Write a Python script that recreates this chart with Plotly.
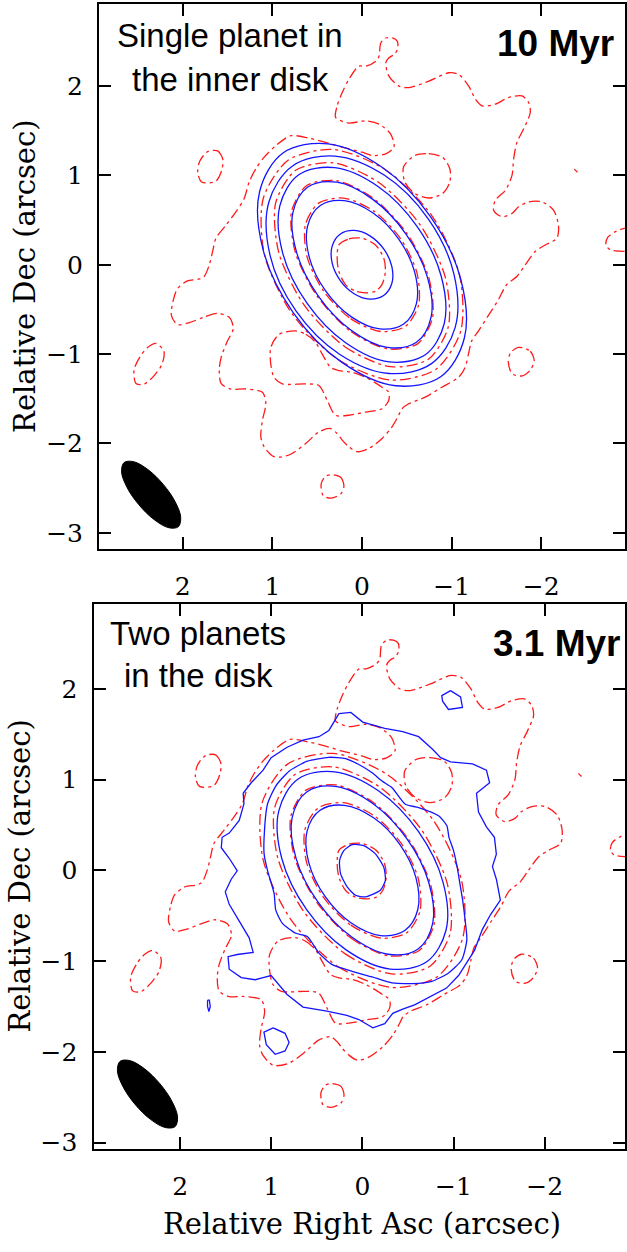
import plotly.graph_objects as go

# ---------------- data (arcsec; RA offset, Dec offset) ----------------
ra_ticks = [2, 1, 0, -1, -2]
dec_ticks = [-3, -2, -1, 0, 1, 2]

# model (blue, solid) contours, single planet panel
b1_ra = [.246, .093, -.086, -.241, -.332, -.334, -.246, -.093, .086, .241, .332, .334, .246]
b1_dec = [-.172, -.321, -.384, -.344, -.212, -.023, .172, .321, .384, .344, .212, .023, -.172]
b2_ra = [.41, .123, -.198, -.465, -.608, -.588, -.41, -.123, .198, .465, .608, .588, .41]
b2_dec = [-.287, -.58, -.718, -.663, -.431, -.083, .287, .58, .718, .663, .431, .083, -.287]
b3_ra = [.491, .121, -.281, -.608, -.772, -.729, -.491, -.121, .281, .608, .772, .729, .491]
b3_dec = [-.344, -.732, -.924, -.868, -.58, -.136, .344, .732, .924, .868, .58, .136, -.344]
b4_ra = [.614, .179, -.304, -.706, -.918, -.885, -.614, -.179, .304, .706, .918, .885, .614]
b4_dec = [-.43, -.876, -1.087, -1.007, -.657, -.131, .43, .876, 1.087, 1.007, .657, .131, -.43]
b5_ra = [.737, .251, -.303, -.775, -1.04, -1.026, -.737, -.251, .303, .775, 1.04, 1.026, .737]
b5_dec = [-.517, -1.001, -1.217, -1.106, -.70, -.105, .517, 1.001, 1.217, 1.106, .70, .105, -.517]
b6_ra = [.766, .224, -.377, -.878, -1.143, -1.102, -.766, -.224, .377, .878, 1.143, 1.102, .766]
b6_dec = [-.537, -1.092, -1.354, -1.253, -.817, -.162, .537, 1.092, 1.354, 1.253, .817, .162, -.537]

# model (blue) contours, two planet panel
c1_ra = [.112, -.015, -.143, -.234, -.252, -.197, -.034, .076, .167, .24, .251, .204, .112]
c1_dec = [.284, .274, .182, .036, -.109, -.219, -.292, -.274, -.182, -.036, .109, .219, .284]
c5_ra = [1.079, 1.042, .951, .805, .605, .368, .185, .039, -.106, -.215, -.325, -.471, -.617,
         -.836, -.927, -.95, -1.0, -1.04, -1.07, -1.1, -1.127, -1.146, -1.091, -.945, -.763,
         -.544, -.325, -.106, .112, .331, .477, .605, .732, .878, .951, .969, 1.042, 1.079, 1.079]
c5_dec = [.365, .729, .930, 1.094, 1.204, 1.247, 1.233, 1.167, 1.076, .985, .912, .729, .693,
          .602, .492, .365, .219, .036, -.146, -.328, -.547, -.766, -.985, -1.13, -1.222,
          -1.247, -1.24, -1.174, -1.112, -1.039, -.912, -.729, -.693, -.584, -.438, -.255, 0, .182, .365]
c6_ra = [.258, .127, -.004, -.245, -.442, -.617, -.77, -.858, -.967, -1.208,
         -1.361, -1.396, -1.252, -1.274, -1.361, -1.449, -1.47, -1.427, -1.47, -1.514,
         -1.405, -1.317, -1.23, -1.142, -1.055, -.923, -.748, -.573, -.442, -.333,
         -.245, -.114, .039, .171, .39, .652, .827, 1.002, 1.09, 1.177,
         1.33, 1.462, 1.475, 1.374, 1.199, 1.243, 1.352, 1.462, 1.505, 1.44,
         1.374, 1.462, 1.549, 1.54, 1.462, 1.352, 1.3, 1.309, 1.221, 1.09,
         1.002, .827, .652, .477, .368, .302, .258]
c6_dec = [1.728, 1.741, 1.635, 1.566, 1.529, 1.474, 1.335, 1.243, 1.197, 1.174,
          1.105, .966, .85, .642, .481, .365, .18, .042, -.097, -.328,
          -.489, -.65, -.881, -1.02, -1.159, -1.297, -1.39, -1.482, -1.529, -1.575,
          -1.69, -1.736, -1.644, -1.598, -1.552, -1.506, -1.367, -1.159, -1.182, -1.205,
          -1.182, -1.089, -.951, -.927, -.904, -.743, -.559, -.374, -.236, -.097,
          -.004, .134, .25, .365, .412, .55, .735, .85, .966, 1.105,
          1.243, 1.358, 1.436, 1.474, 1.543, 1.658, 1.728]
ci1_ra = [-.967, -1.077, -1.098, -.945, -.88, -.871, -.967]
ci1_dec = [1.982, 1.913, 1.797, 1.774, 1.866, 1.926, 1.982]
ci2_ra = [.98, .849, .805, .849, .958, 1.055, 1.081, .98]
ci2_dec = [-1.736, -1.796, -1.898, -1.99, -2.027, -1.921, -1.783, -1.736]
ci3_ra = [1.70, 1.68, 1.67, 1.685, 1.70, 1.70]
ci3_dec = [-1.43, -1.43, -1.50, -1.555, -1.50, -1.43]

# observed (red, dash-dot) contours, identical in both panels
r1_ra = [.258, .147, 0, -.15, -.243, -.261, -.223, -.15, -.039, .072, .184, .258, .277, .258]
r1_dec = [.222, .289, .297, .222, .074, -.074, -.222, -.296, -.314, -.296, -.222, -.074, .074, .222]
r2_ra = [.426, .128, -.206, -.484, -.632, -.612, -.426, -.128, .206, .484, .632, .612, .426]
r2_dec = [-.298, -.603, -.747, -.690, -.448, -.086, .298, .603, .747, .690, .448, .086, -.298]
r3_ra = [.501, .123, -.287, -.620, -.787, -.744, -.501, -.123, .287, .620, .787, .744, .501]
r3_dec = [-.351, -.747, -.942, -.885, -.592, -.139, .351, .747, .942, .885, .592, .139, -.351]
r4_ra = [.645, .188, -.319, -.741, -.964, -.929, -.645, -.188, .319, .741, .964, .929, .645]
r4_dec = [-.452, -.920, -1.141, -1.057, -.690, -.138, .452, .920, 1.141, 1.057, .690, .138, -.452]
r5_ra = [.781, .266, -.321, -.822, -1.102, -1.088, -.781, -.266, .321, .822, 1.102, 1.088, .781]
r5_dec = [-.548, -1.061, -1.290, -1.172, -.742, -.111, .548, 1.061, 1.290, 1.172, .742, .111, -.548]
rout_ra = [-0.265, -0.339, -0.395, -0.395, -0.357, -0.301, -0.265, -0.301, -0.413, -0.524,
           -0.746, -0.969, -1.08, -1.191, -1.266, -1.34, -1.488, -1.636, -1.785, -1.859,
           -1.878, -1.803, -1.73, -1.692, -1.674, -1.6, -1.488, -1.469, -1.563, -1.674,
           -1.747, -1.859, -2.008, -2.137, -2.192, -2.175, -2.044, -1.933, -1.822, -1.73,
           -1.611, -1.522, -1.411, -1.3, -1.225, -1.188, -1.151, -1.077, -0.891, -0.706,
           -0.521, -0.446, -0.409, -0.335, -0.224, -0.076, 0.055, 0.147, 0.221, 0.277,
           0.35, 0.481, 0.628, 0.814, 0.981, 1.092, 1.129, 1.111, 1.073, 1.111,
           1.315, 1.459, 1.571, 1.593, 1.571, 1.504, 1.437, 1.482, 1.615, 1.771,
           1.927, 2.06, 2.127, 2.105, 2.06, 1.949, 1.815, 1.76, 1.704, 1.667,
           1.63, 1.518, 1.407, 1.315, 1.259, 1.185, 1.092, 0.962, 0.795, 0.592,
           0.406, 0.221, -0.001, -0.117, -0.265, -0.357, -0.32, -0.19, -0.042, 0.147,
           0.295, 0.277, 0.221, 0.147, 0.036, -0.042, -0.154, -0.19, -0.209, -0.265]
rout_dec = [2.538, 2.538, 2.5, 2.408, 2.352, 2.316, 2.26, 2.111, 2.0, 1.982,
            2.056, 2.149, 2.13, 2.0, 1.852, 1.778, 1.797, 1.871, 1.889, 1.816,
            1.704, 1.519, 1.371, 1.186, 1.0, 0.833, 0.722, 0.611, 0.538, 0.574,
            0.649, 0.704, 0.704, 0.611, 0.444, 0.297, 0.222, 0.149, 0.0, -0.129,
            -0.226, -0.392, -0.566, -0.74, -0.851, -1.0, -1.148, -1.259, -1.37, -1.481,
            -1.556, -1.611, -1.684, -1.814, -1.944, -2.056, -2.092, -2.037, -1.962, -1.889,
            -1.833, -1.87, -2.0, -2.129, -2.148, -2.037, -1.926, -1.74, -1.556, -1.426,
            -1.389, -1.392, -1.331, -1.181, -1.033, -0.859, -0.714, -0.588, -0.544, -0.588,
            -0.648, -0.670, -0.566, -0.392, -0.268, -0.181, -0.159, -0.129, 0.0, 0.149,
            0.297, 0.444, 0.593, 0.741, 0.927, 1.074, 1.204, 1.333, 1.444, 1.416,
            1.371, 1.316, 1.26, 1.222, 1.241, 1.316, 1.463, 1.574, 1.611, 1.586,
            1.649, 1.778, 1.927, 2.074, 2.222, 2.222, 2.278, 2.333, 2.482, 2.538]
rhole_ra = [.74, .628, .517, .444, .35, .258, .11, -.039, -.168, -.224, -.298, -.298, -.224,
            -.039, .147, .295, .388, .481, .628, .889, .981, 1.018, 1.018, .925, .74]
rhole_dec = [-.74, -.778, -.87, -1.0, -1.148, -1.184, -1.203, -1.259, -1.333, -1.37, -1.426, -1.518,
             -1.611, -1.648, -1.684, -1.684, -1.518, -1.351, -1.333, -1.333, -1.259, -1.111, -.926, -.778, -.74]
ri1_ra = [1.722, 1.611, 1.553, 1.567, 1.633, 1.789, 1.833, 1.811, 1.722]
ri1_dec = [1.266, 1.274, 1.181, 1.053, .934, .926, 1.032, 1.159, 1.266]
ri2_ra = [2.3, 2.211, 2.233, 2.322, 2.433, 2.522, 2.544, 2.478, 2.389, 2.3]
ri2_dec = [-.881, -.967, -1.115, -1.243, -1.336, -1.328, -1.179, -1.03, -.924, -.881]
ri3_ra = [-1.744, -1.878, -1.922, -1.878, -1.789, -1.678, -1.633, -1.656, -1.744]
ri3_dec = [-.924, -.967, -1.073, -1.179, -1.243, -1.222, -1.094, -.988, -.924]
ri4_ra = [.344, .233, .202, .233, .344, .433, .456, .411, .344]
ri4_dec = [-2.349, -2.383, -2.476, -2.561, -2.612, -2.583, -2.455, -2.37, -2.349]
ri5_ra = [-.589, -.744, -.9, -.98, -.98, -.9, -.744, -.589, -.478, -.464, -.589]
ri5_dec = [1.223, 1.244, 1.202, 1.075, .926, .798, .747, .798, .926, 1.096, 1.223]
ri6_ra = [-3.0, -2.833, -2.744, -2.722, -2.767, -3.0]
ri6_dec = [.43, .373, .309, .224, .169, .15]
ri7_ra = [-2.369, -2.405]
ri7_dec = [1.07, 1.035]

# synthesized beams
beam1_ra = [2.489, 2.32, 2.159, 2.051, 2.023, 2.084, 2.217, 2.386, 2.547, 2.655, 2.683, 2.622, 2.489]
beam1_dec = [-2.687, -2.852, -2.942, -2.933, -2.828, -2.654, -2.459, -2.294, -2.204, -2.213, -2.318, -2.492, -2.687]
beam2_ra = [2.495, 2.326, 2.165, 2.057, 2.029, 2.09, 2.223, 2.392, 2.553, 2.661, 2.689, 2.628, 2.495]
beam2_dec = [-2.579, -2.744, -2.834, -2.825, -2.72, -2.546, -2.351, -2.186, -2.096, -2.105, -2.21, -2.384, -2.579]

assert len(rout_ra) == len(rout_dec)
assert len(c6_ra) == len(c6_dec)
assert len(c5_ra) == len(c5_dec)
assert len(rhole_ra) == len(rhole_dec)

# ---------------- figure ----------------
BLUE = "#1414ff"
RED = "#ff1a1a"
DASHDOT = "11px,4px,3px,4px"
fig = go.Figure()


def add_line(ra, dec, color, panel, dash="solid", shape="spline", smooth=1.0):
    xa, ya = ("x", "y") if panel == 1 else ("x2", "y2")
    fig.add_trace(go.Scatter(
        x=ra, y=dec, mode="lines", xaxis=xa, yaxis=ya,
        line=dict(color=color, width=1.3, dash=dash, shape=shape,
                  smoothing=smooth if shape == "spline" else None),
        hoverinfo="skip", showlegend=False))


red_sets = [(r1_ra, r1_dec), (r2_ra, r2_dec), (r3_ra, r3_dec), (r4_ra, r4_dec),
            (r5_ra, r5_dec), (rout_ra, rout_dec), (rhole_ra, rhole_dec),
            (ri1_ra, ri1_dec), (ri2_ra, ri2_dec), (ri3_ra, ri3_dec), (ri4_ra, ri4_dec),
            (ri5_ra, ri5_dec), (ri6_ra, ri6_dec), (ri7_ra, ri7_dec)]

for panel in (1, 2):
    for ra, dec in red_sets:
        add_line(ra, dec, RED, panel, dash=DASHDOT, smooth=0.8)

for ra, dec in [(b1_ra, b1_dec), (b2_ra, b2_dec), (b3_ra, b3_dec),
                (b4_ra, b4_dec), (b5_ra, b5_dec), (b6_ra, b6_dec)]:
    add_line(ra, dec, BLUE, 1)

add_line(c1_ra, c1_dec, BLUE, 2, smooth=0.6)
for ra, dec in [(b2_ra, b2_dec), (b3_ra, b3_dec), (b4_ra, b4_dec)]:
    add_line(ra, dec, BLUE, 2)
add_line(c5_ra, c5_dec, BLUE, 2, smooth=0.6)
for ra, dec in [(c6_ra, c6_dec), (ci1_ra, ci1_dec), (ci2_ra, ci2_dec), (ci3_ra, ci3_dec)]:
    add_line(ra, dec, BLUE, 2, shape="linear")

for panel, (ra, dec) in ((1, (beam1_ra, beam1_dec)), (2, (beam2_ra, beam2_dec))):
    xa, ya = ("x", "y") if panel == 1 else ("x2", "y2")
    fig.add_trace(go.Scatter(x=ra, y=dec, mode="lines", fill="toself", fillcolor="black",
                             line=dict(color="black", width=1, shape="spline"),
                             xaxis=xa, yaxis=ya, hoverinfo="skip", showlegend=False))

tickfont = dict(family="DejaVu Serif, serif", size=25, color="black")
common = dict(showgrid=False, zeroline=False, showline=True, linecolor="black", linewidth=2,
              mirror="ticks", ticks="inside", ticklen=12, tickwidth=1.8, tickcolor="black",
              tickfont=tickfont, fixedrange=True)

fig.update_layout(
    width=627, height=1252, autosize=False,
    margin=dict(l=0, r=0, t=0, b=0),
    paper_bgcolor="white", plot_bgcolor="white",
    xaxis=dict(domain=[0.1584, 1.0], range=[2.935, -2.935], tickvals=ra_ticks,
               anchor="y", ticklabelstandoff=14, **common),
    yaxis=dict(domain=[0.5581, 0.9964], range=[-3.184, 2.913], tickvals=dec_ticks,
               anchor="x", ticklabelstandoff=9, **common),
    xaxis2=dict(domain=[0.151, 1.0], range=[2.942, -2.882], tickvals=ra_ticks,
                anchor="y2", ticklabelstandoff=14, **common),
    yaxis2=dict(domain=[0.0759, 0.5141], range=[-3.067, 2.937], tickvals=dec_ticks,
                anchor="x2", ticklabelstandoff=10, **common),
)

lab = dict(family="Liberation Sans, Arial, sans-serif", size=33, color="black")
bold = dict(family="Liberation Sans, Arial, sans-serif", size=37, color="black", weight="bold")
axf = dict(family="DejaVu Serif, serif", size=29, color="black")


def ann(text, x, y, font, xanchor="center", angle=0):
    fig.add_annotation(text=text, x=x, y=y, xref="paper", yref="paper", showarrow=False,
                       xanchor=xanchor, yanchor="middle", font=font, textangle=angle)


ann("Single planet in", 231 / 627, 1 - 35.9 / 1252, lab)
ann("the inner disk", 231 / 627, 1 - 80.3 / 1252, lab)
ann("<b>10 Myr</b>", 618 / 627, 1 - 43.9 / 1252, bold, xanchor="right")
ann("Two planets", 198.7 / 627, 1 - 637.7 / 1252, lab)
ann("in the disk", 198.7 / 627, 1 - 679.9 / 1252, lab)
ann("<b>3.1 Myr</b>", 625 / 627, 1 - 648.1 / 1252, bold, xanchor="right")
ann("Relative Dec (arcsec)", 25 / 627, 1 - 278 / 1252, axf, angle=-90)
ann("Relative Dec (arcsec)", 20 / 627, 1 - 882 / 1252, axf, angle=-90)
ann("Relative Right Asc (arcsec)", 363 / 627, 1 - 1233 / 1252, axf)

fig.write_html(
    "out.html",
    config={"displayModeBar": False},
    post_script="document.body.style.margin='0';document.body.style.overflow='hidden';",
)
